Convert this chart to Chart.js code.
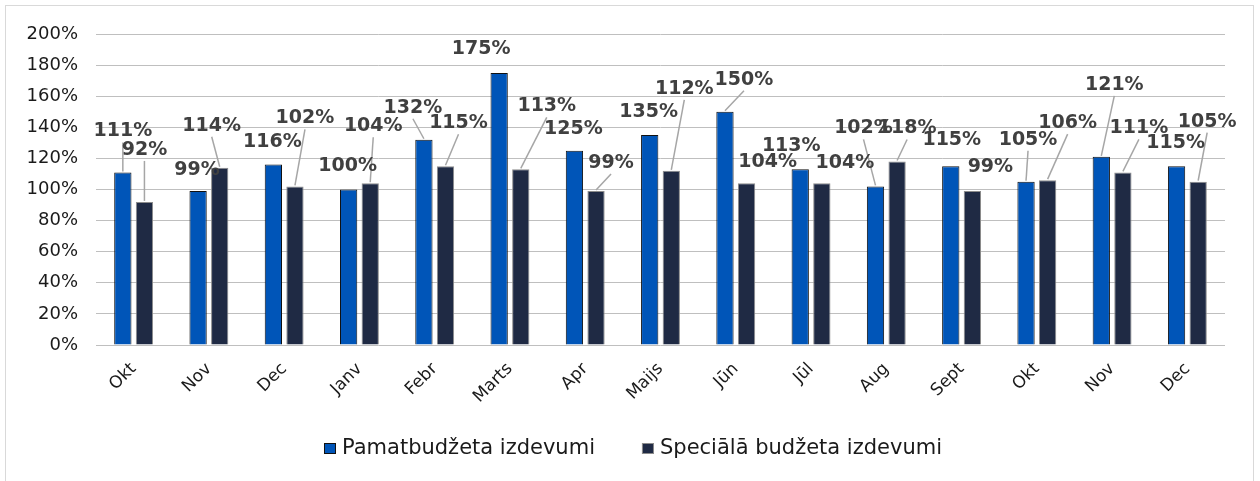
<!DOCTYPE html>
<html>
<head>
<meta charset="utf-8">
<script src="https://cdn.jsdelivr.net/npm/chart.js@4.4.1/dist/chart.umd.min.js"></script>
<style>
  body { margin: 0; background: #fff; }
  #wrap { width: 1260px; height: 481px; }
</style>
</head>
<body>
<div id="wrap"><canvas id="budgetChart"></canvas></div>
<script>
const months = ['Okt', 'Nov', 'Dec', 'Janv', 'Febr', 'Marts', 'Apr', 'Maijs', 'Jūn', 'Jūl', 'Aug', 'Sept', 'Okt', 'Nov', 'Dec'];
const pamatValues = [111, 99, 116, 100, 132, 175, 125, 135, 150, 113, 102, 115, 105, 121, 115];
const specValues = [92, 114, 102, 104, 115, 113, 99, 112, 104, 104, 118, 99, 106, 111, 105];
const seriesNames = ['Pamatbudžeta izdevumi', 'Speciālā budžeta izdevumi'];
const yTicks = [0, 20, 40, 60, 80, 100, 120, 140, 160, 180, 200];

// where each value label sits, relative to the top of its bar (px)
const shiftA = [[0, -41], [-1, -21], [-1, -23], [-1, -23], [-11, -32], [-18, -24], [-1, -22], [-1, -23],
    [19, -32], [-9, -23], [-12, -58], [1, -26], [2, -42], [13, -72], [-1, -23]];
const shiftB = [[0, -52], [-8, -42], [10, -68], [3, -57], [13, -43], [26, -63], [15, -28], [13, -82],
    [21, -21], [23, -20], [10, -33], [18, -24], [20, -57], [16, -44], [9, -60]];

const colors = ['#0055b8', '#1f2a44'];
const edges = ['#111', '#8c8c8c'];

const framePlugin = {
    id: 'frame',
    beforeDraw(chart) {
        const ctx = chart.ctx;
        ctx.save();
        ctx.fillStyle = '#fff';
        ctx.fillRect(0, 0, chart.width, chart.height);
        ctx.strokeStyle = '#d9d9d9';
        ctx.lineWidth = 1;
        ctx.strokeRect(5.5, 5.5, chart.width - 12, chart.height + 10);
        ctx.restore();
    },
    afterDraw(chart) {
        // legend, drawn by hand so the item gap can differ from the vertical padding
        const ctx = chart.ctx;
        ctx.save();
        ctx.font = '21px "DejaVu Sans"';
        ctx.textBaseline = 'middle';
        const box = 12, gapText = 6, gapItem = 47;
        const widths = seriesNames.map(n => ctx.measureText(n).width);
        const total = widths.reduce((s, w) => s + box + gapText + w, 0) + gapItem;
        let x = chart.width / 2 + 3 - total / 2;
        const y = 449;
        seriesNames.forEach((name, i) => {
            ctx.fillStyle = colors[i];
            ctx.fillRect(x, y - 6, box, 11);
            ctx.strokeStyle = edges[i];
            ctx.lineWidth = 1;
            ctx.strokeRect(x + 0.5, y - 5.5, box - 1, 10);
            ctx.fillStyle = '#1a1a1a';
            ctx.fillText(name, x + box + gapText, y);
            x += box + gapText + widths[i] + gapItem;
        });
        ctx.restore();
    }
};

const valueLabels = {
    id: 'valueLabels',
    afterDatasetsDraw(chart) {
        const ctx = chart.ctx;
        ctx.save();
        const items = [];
        chart.data.datasets.forEach((ds, di) => {
            const shifts = di === 0 ? shiftA : shiftB;
            chart.getDatasetMeta(di).data.forEach((bar, i) => {
                items.push({ bar, lx: bar.x + shifts[i][0], ly: bar.y + shifts[i][1], text: ds.data[i] + '%' });
            });
        });
        // leader lines for labels that sit away from their bar
        ctx.strokeStyle = '#a6a6a6';
        ctx.lineWidth = 1.5;
        items.forEach(it => {
            if (it.bar.y - (it.ly + 9) > 17) {
                ctx.beginPath();
                ctx.moveTo(it.lx, it.ly + 11);
                ctx.lineTo(it.bar.x, it.bar.y - 1);
                ctx.stroke();
            }
        });
        ctx.font = 'bold 19px "DejaVu Sans"';
        ctx.fillStyle = '#404040';
        ctx.textAlign = 'center';
        ctx.textBaseline = 'middle';
        items.forEach(it => ctx.fillText(it.text, it.lx, it.ly));
        ctx.restore();
    }
};

new Chart(document.getElementById('budgetChart'), {
    type: 'bar',
    data: {
        labels: months,
        datasets: [{
            label: seriesNames[0],
            data: pamatValues,
            backgroundColor: colors[0],
            borderColor: edges[0],
            borderWidth: 1,
            categoryPercentage: 0.574,
            barPercentage: 0.8
        }, {
            label: seriesNames[1],
            data: specValues,
            backgroundColor: colors[1],
            borderColor: edges[1],
            borderWidth: 1,
            categoryPercentage: 0.574,
            barPercentage: 0.8
        }]
    },
    options: {
        responsive: true,
        maintainAspectRatio: false,
        animation: false,
        layout: { padding: { top: 34, right: 35, left: 0, bottom: 60 } },
        plugins: {
            legend: { display: false },
            tooltip: { enabled: false }
        },
        scales: {
            x: {
                grid: { display: false, drawTicks: false },
                border: { display: false },
                ticks: {
                    color: '#1a1a1a',
                    font: { family: 'DejaVu Sans', size: 17 },
                    minRotation: 45,
                    maxRotation: 45,
                    padding: 14
                },
                afterFit: s => { s.height = 76; }
            },
            y: {
                min: 0,
                max: 200,
                afterBuildTicks: s => { s.ticks = yTicks.map(v => ({ value: v })); },
                grid: { color: '#bfbfbf', lineWidth: 1, drawTicks: false },
                border: { display: false },
                ticks: {
                    color: '#1a1a1a',
                    font: { family: 'DejaVu Sans', size: 18 },
                    padding: 18,
                    callback: v => v + '%'
                },
                afterFit: s => { s.width = 96; }
            }
        }
    },
    plugins: [framePlugin, valueLabels]
});
</script>
</body>
</html>
